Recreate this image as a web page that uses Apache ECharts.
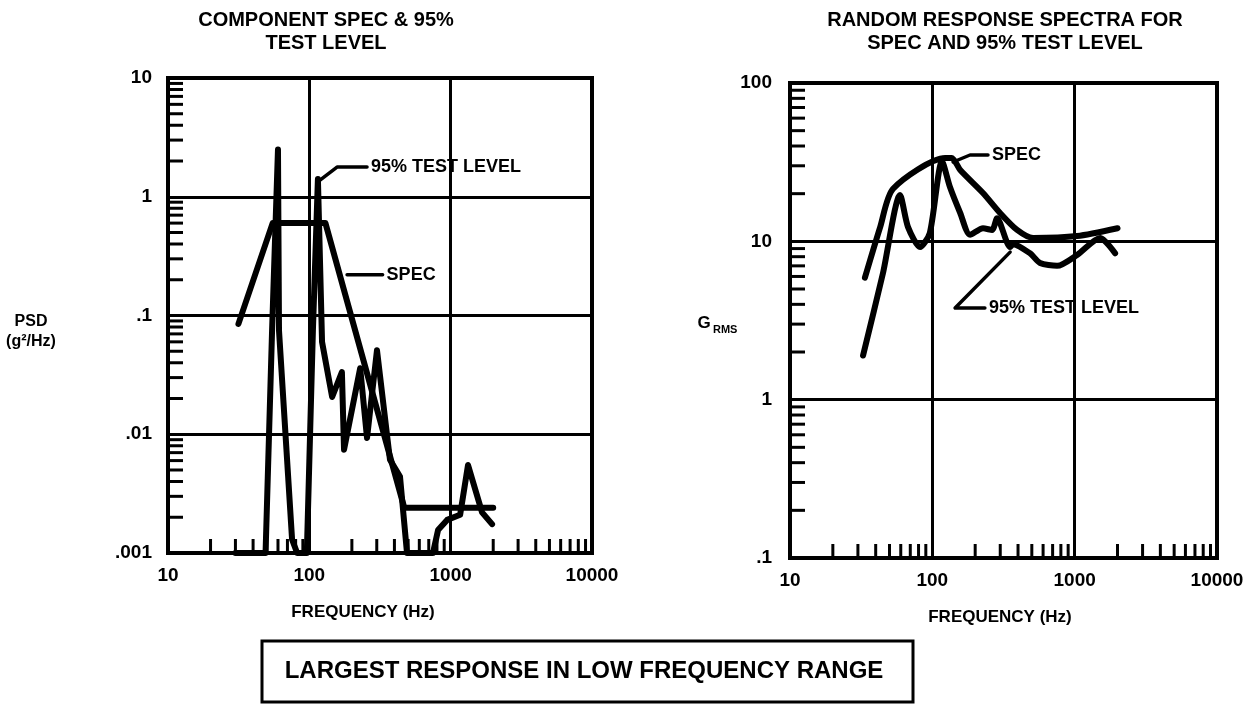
<!DOCTYPE html>
<html>
<head>
<meta charset="UTF-8">
<title>Component spec & 95% test level</title>
<script src="https://cdn.jsdelivr.net/npm/echarts@6/dist/echarts.min.js"></script>
<style>
  html, body { margin: 0; padding: 0; background: #fff; }
  #chart { width: 1260px; height: 709px; }
</style>
</head>
<body>
<div id="chart"></div>
<script>
// left panel: PSD (g^2/Hz) against frequency (Hz)
var psdSpec = [[31.5, 0.085], [55, 0.6], [130, 0.6], [470, 0.0024], [2000, 0.0024]];
var psdTest95 = [[30, 0.001], [49, 0.001], [54.5, 0.075], [60, 2.5], [61, 0.075], [75.5, 0.0013],
  [82, 0.001], [96, 0.001], [106, 0.075], [115, 1.41], [123, 0.06], [145, 0.0206], [170, 0.0334],
  [176, 0.0074], [229, 0.036], [256, 0.0093], [301, 0.051], [372, 0.0061], [438, 0.0044],
  [491, 0.001], [750, 0.001], [814, 0.00156], [944, 0.0019], [1167, 0.0021], [1327, 0.0055],
  [1667, 0.0022], [1963, 0.00175]];

// right panel: random response Grms against frequency (Hz)
var grmsSpec = [[33.6, 5.9], [43, 12.3], [53, 21.5], [123, 33.6], [137, 33.6], [157, 28.2],
  [227, 20.2], [299, 15.1], [394, 11.8], [511, 10.5], [1040, 10.8], [2000, 12.1]];
var grmsTest95 = [[32.6, 1.9], [45, 6.3], [59.3, 19.6], [67.5, 12.3], [82, 9.2], [96, 11.3],
  [117, 32], [133, 22], [157, 15.1], [184, 11.0], [227, 12.1], [263, 11.8], [285, 14],
  [352, 9.2], [369, 9.6], [486, 8.4], [571, 7.3], [752, 7.0], [1040, 8.2], [1507, 10.5], [1924, 8.4]];

// leader lines from the curve labels (data coordinates)
var psdTestLeader = [[119, 1.38], [157, 1.78], [256, 1.78]];
var psdSpecLeader = [[185, 0.22], [330, 0.22]];
var grmsSpecLeader = [[140, 31.7], [184, 35.1], [246, 35.1]];
var grmsTestLeader = [[352, 8.55], [144.5, 3.79], [234, 3.79]];

var freqTicks = ['10', '100', '1000', '10000'];
var psdTicks = ['.001', '.01', '.1', '1', '10'];
var grmsTicks = ['.1', '1', '10', '100'];

var FONT = 'Liberation Sans, Arial, sans-serif';

function minorValues(lo, hi) {
  var out = [];
  for (var d = lo; d < hi * 0.999; d *= 10) {
    for (var k = 2; k < 10; k++) out.push(+(k * d).toPrecision(3));
  }
  return out;
}

function xTickItem(params, api) {
  var p = api.coord([api.value(0), api.value(1)]);
  return { type: 'line', shape: { x1: p[0], y1: p[1], x2: p[0], y2: p[1] - 14 },
    style: { stroke: '#000', lineWidth: 3 } };
}
function yTickItem(params, api) {
  var p = api.coord([api.value(0), api.value(1)]);
  return { type: 'line', shape: { x1: p[0], y1: p[1], x2: p[0] + 15, y2: p[1] },
    style: { stroke: '#000', lineWidth: 3 } };
}

function axisLabel(list, offset, margin) {
  return {
    color: '#000', fontFamily: FONT, fontWeight: 'bold', fontSize: 19, margin: margin,
    formatter: function (v) { return list[Math.round(Math.log10(v)) + offset]; }
  };
}

function logAxis(gridIndex, min, max, labels, offset, margin) {
  return {
    type: 'log', logBase: 10, gridIndex: gridIndex, min: min, max: max,
    axisLine: { show: true, lineStyle: { color: '#000', width: 4 } },
    axisTick: { show: false },
    splitLine: { show: true, lineStyle: { color: '#000', width: 3 } },
    axisLabel: axisLabel(labels, offset, margin)
  };
}

function curve(name, xi, data, smooth) {
  return {
    name: name, type: 'line', xAxisIndex: xi, yAxisIndex: xi, data: data,
    showSymbol: false, symbol: 'none', smooth: smooth, animation: false, z: 5,
    lineStyle: { color: '#000', width: 6, cap: 'round', join: 'round' }
  };
}

function leader(xi, data, text) {
  return {
    type: 'line', xAxisIndex: xi, yAxisIndex: xi, data: data, symbol: 'none',
    animation: false, z: 6,
    lineStyle: { color: '#000', width: 3.5, cap: 'round', join: 'round' },
    endLabel: { show: true, formatter: text, distance: 4, color: '#000',
      fontFamily: FONT, fontWeight: 'bold', fontSize: 18 }
  };
}

function ticks(xi, data, fn) {
  return { type: 'custom', xAxisIndex: xi, yAxisIndex: xi, data: data,
    renderItem: fn, animation: false, silent: true, z: 3 };
}

function label(x, y, text, size, align) {
  return { type: 'text', x: x, y: y, style: { text: text, align: align || 'center',
    verticalAlign: 'middle', font: 'bold ' + size + 'px ' + FONT, fill: '#000' } };
}

var chart = echarts.init(document.getElementById('chart'));

chart.setOption({
  backgroundColor: '#fff',
  title: [
    { text: 'COMPONENT SPEC & 95%\nTEST LEVEL', left: 321, top: 4, textAlign: 'center',
      textStyle: { fontFamily: FONT, fontWeight: 'bold', fontSize: 20, lineHeight: 23, color: '#000' } },
    { text: 'RANDOM RESPONSE SPECTRA FOR\nSPEC AND 95% TEST LEVEL', left: 1000, top: 4, textAlign: 'center',
      textStyle: { fontFamily: FONT, fontWeight: 'bold', fontSize: 20, lineHeight: 23, color: '#000' } }
  ],
  grid: [
    { left: 168, top: 78, width: 424, height: 475, show: true, borderColor: '#000', borderWidth: 4 },
    { left: 790, top: 83, width: 427, height: 475, show: true, borderColor: '#000', borderWidth: 4 }
  ],
  xAxis: [
    logAxis(0, 10, 10000, freqTicks, -1, 13),
    logAxis(1, 10, 10000, freqTicks, -1, 13)
  ],
  yAxis: [
    logAxis(0, 0.001, 10, psdTicks, 3, 16),
    logAxis(1, 0.1, 100, grmsTicks, 1, 18)
  ],
  series: [
    ticks(0, minorValues(10, 10000).map(function (v) { return [v, 0.001]; }), xTickItem),
    ticks(0, minorValues(0.001, 10).map(function (v) { return [10, v]; }), yTickItem),
    ticks(1, minorValues(10, 10000).map(function (v) { return [v, 0.1]; }), xTickItem),
    ticks(1, minorValues(0.1, 100).map(function (v) { return [10, v]; }), yTickItem),
    curve('SPEC', 0, psdSpec, false),
    curve('95% TEST LEVEL', 0, psdTest95, false),
    curve('SPEC', 1, grmsSpec, 0.25),
    curve('95% TEST LEVEL', 1, grmsTest95, 0.25),
    leader(0, psdTestLeader, '95% TEST LEVEL'),
    leader(0, psdSpecLeader, 'SPEC'),
    leader(1, grmsSpecLeader, 'SPEC'),
    leader(1, grmsTestLeader, '95% TEST LEVEL')
  ],
  graphic: [
    label(31, 322, 'PSD', 16),
    label(31, 342, '(g²/Hz)', 16),
    label(704, 323, 'G', 17),
    label(713, 330, 'RMS', 11, 'left'),
    label(363, 612, 'FREQUENCY (Hz)', 17),
    label(1000, 617, 'FREQUENCY (Hz)', 17),
    { type: 'rect', shape: { x: 262, y: 641, width: 651, height: 61 },
      style: { fill: 'none', stroke: '#000', lineWidth: 3 } },
    label(584, 671, 'LARGEST RESPONSE IN LOW FREQUENCY RANGE', 24)
  ]
});
</script>
</body>
</html>
